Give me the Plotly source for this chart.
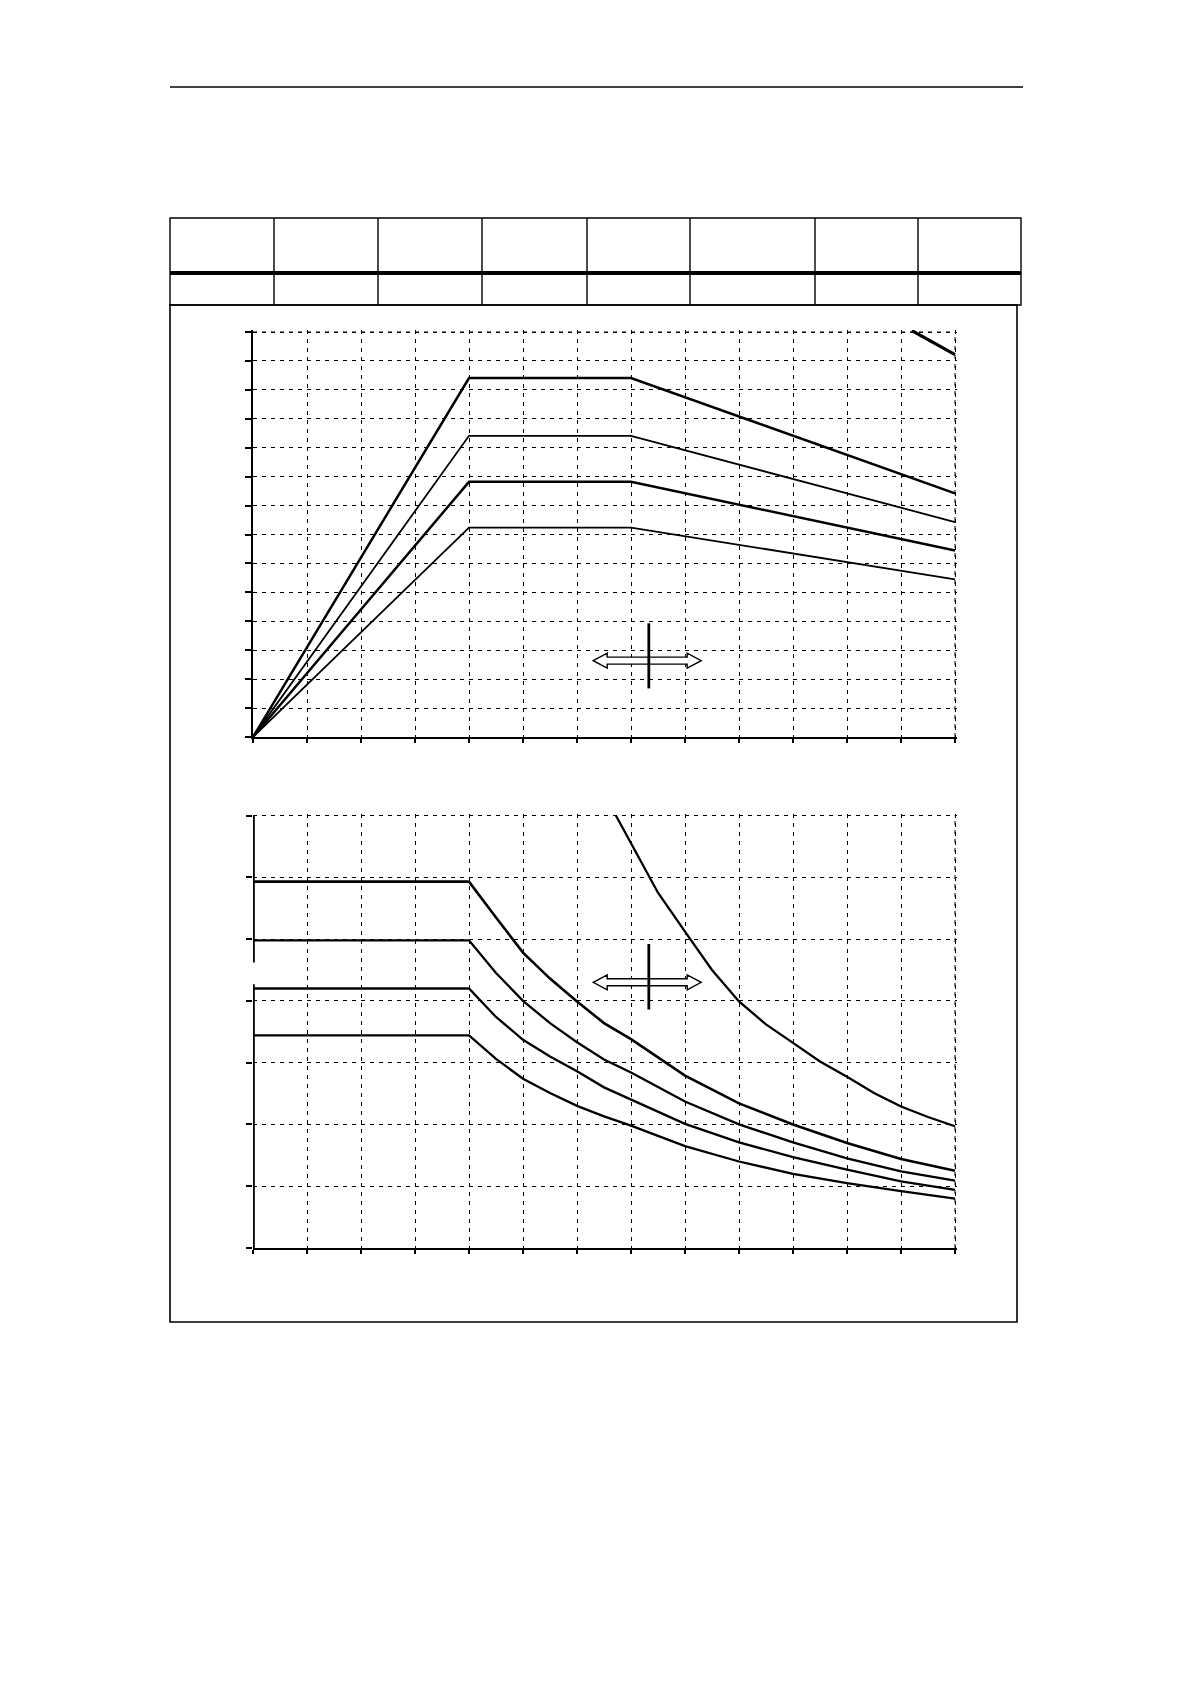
import plotly.graph_objects as go

# Seitengröße (Browserfenster) und Rand des <body>
PAGE_W, PAGE_H = 1190, 1684
BODY_MARGIN = 8
FIG_W, FIG_H = PAGE_W - 2 * BODY_MARGIN, PAGE_H - 2 * BODY_MARGIN

# Daten oberes Diagramm (Gitter 13 x 14)
x_oben = [0, 4, 7, 13]
oben_1 = [0, 12.41, 12.41, 8.42]
oben_2 = [0, 10.41, 10.41, 7.43]
oben_3 = [0, 8.82, 8.82, 6.45]
oben_4 = [0, 7.24, 7.24, 5.45]
x_strich = [12.2, 13]
y_strich = [14.05, 13.22]

# Daten unteres Diagramm (Gitter 13 x 7)
x_unten = [0, 4, 4.5, 5, 5.5, 6, 6.5, 7, 8, 9, 10, 11, 12, 13]
unten_a = [5.93, 5.93, 5.35, 4.78, 4.36, 3.99, 3.64, 3.38, 2.79, 2.34, 2.00, 1.70, 1.44, 1.25]
unten_b = [4.98, 4.98, 4.45, 4.00, 3.64, 3.33, 3.05, 2.84, 2.37, 2.00, 1.71, 1.45, 1.24, 1.09]
unten_c = [4.20, 4.20, 3.74, 3.37, 3.10, 2.86, 2.60, 2.40, 2.01, 1.71, 1.47, 1.27, 1.08, 0.94]
unten_d = [3.44, 3.44, 3.06, 2.74, 2.51, 2.30, 2.13, 1.98, 1.65, 1.40, 1.20, 1.05, 0.92, 0.80]
x_grenz = [6.72, 7, 7.5, 8, 8.5, 9, 9.5, 10, 10.5, 11, 11.5, 12, 12.5, 13]
unten_e = [7.0, 6.55, 5.75, 5.12, 4.50, 3.99, 3.62, 3.32, 3.02, 2.77, 2.51, 2.29, 2.12, 1.97]

# Achsbereiche (Gitter) und kleiner Überstand, damit die Randlinien nicht abgeschnitten werden
x_max = 13
y_max_oben = 14
y_max_unten = 7
UEBERSTAND_PX = 2

# Lücke in der y-Achse unten
y_achse_unten = [[4.62, 7], [0, 4.27]]

# Doppelpfeile mit Strich (Mitte, Strich-x, Strich y von/bis)
pfeil_oben = (7.3, 2.64, 7.33, 1.68, 3.93)
pfeil_unten = (7.3, 4.30, 7.33, 3.86, 4.92)

# Tabellenkopf (Seitenpixel)
tabelle_spalten = [170, 274, 378, 482, 587, 690, 815, 918, 1021]

STRICHEL = "4px,5px"

# Lage der Diagramme auf der Seite (Pixel)
X_LINKS, X_RECHTS = 253, 955
OBEN_Y0, OBEN_Y1 = 332, 737
UNTEN_Y0, UNTEN_Y1 = 815.5, 1248


def px(x):
    return (x - BODY_MARGIN) / FIG_W


def py(y):
    return 1 - (y - BODY_MARGIN) / FIG_H


# Bereich mit Überstand berechnen
x_pro_px = x_max / (X_RECHTS - X_LINKS)
y_oben_pro_px = y_max_oben / (OBEN_Y1 - OBEN_Y0)
y_unten_pro_px = y_max_unten / (UNTEN_Y1 - UNTEN_Y0)

fig = go.Figure()

for ys, w in [(oben_1, 2.5), (oben_2, 1.8), (oben_3, 2.5), (oben_4, 1.8)]:
    fig.add_trace(go.Scatter(x=x_oben, y=ys, mode="lines", line=dict(color="black", width=w),
                             xaxis="x", yaxis="y", hoverinfo="skip"))
fig.add_trace(go.Scatter(x=x_strich, y=y_strich, mode="lines", line=dict(color="black", width=3.2),
                         xaxis="x", yaxis="y", hoverinfo="skip"))

for ys, w in [(unten_a, 2.6), (unten_b, 2.3), (unten_c, 2.3), (unten_d, 2.3)]:
    fig.add_trace(go.Scatter(x=x_unten, y=ys, mode="lines", line=dict(color="black", width=w),
                             xaxis="x2", yaxis="y2", hoverinfo="skip"))
fig.add_trace(go.Scatter(x=x_grenz, y=unten_e, mode="lines", line=dict(color="black", width=2.3),
                         xaxis="x2", yaxis="y2", hoverinfo="skip"))

achse = dict(showgrid=True, gridcolor="black", gridwidth=1, griddash=STRICHEL,
             zeroline=False, showticklabels=False, dtick=1, tick0=0,
             ticks="outside", ticklen=4, tickcolor="black", tickwidth=1.5,
             linecolor="black", linewidth=1.8)

fig.update_layout(
    width=FIG_W, height=FIG_H,
    margin=dict(l=0, r=0, t=0, b=0),
    paper_bgcolor="white", plot_bgcolor="white",
    showlegend=False,
    xaxis=dict(achse, range=[0, x_max + UEBERSTAND_PX * x_pro_px],
               domain=[px(X_LINKS), px(X_RECHTS + UEBERSTAND_PX)], anchor="y", showline=True),
    yaxis=dict(achse, range=[0, y_max_oben + UEBERSTAND_PX * y_oben_pro_px],
               domain=[py(OBEN_Y1), py(OBEN_Y0 - UEBERSTAND_PX)], anchor="x", showline=True, ticklen=6),
    xaxis2=dict(achse, range=[0, x_max + UEBERSTAND_PX * x_pro_px],
                domain=[px(X_LINKS), px(X_RECHTS + UEBERSTAND_PX)], anchor="y2", showline=True),
    yaxis2=dict(achse, range=[0, y_max_unten + UEBERSTAND_PX * y_unten_pro_px],
                domain=[py(UNTEN_Y1), py(UNTEN_Y0 - UEBERSTAND_PX)], anchor="x2", showline=False, ticklen=6),
)

formen = []
# Kopflinie
formen.append(dict(type="line", xref="paper", yref="paper", x0=px(170), x1=px(1023), y0=py(87), y1=py(87),
                   line=dict(color="black", width=1.5)))
# Tabelle
formen.append(dict(type="rect", xref="paper", yref="paper", x0=px(170), x1=px(1021), y0=py(218), y1=py(305),
                   line=dict(color="black", width=1.4)))
for sx in tabelle_spalten[1:-1]:
    formen.append(dict(type="line", xref="paper", yref="paper", x0=px(sx), x1=px(sx), y0=py(218), y1=py(305),
                       line=dict(color="black", width=1.4)))
formen.append(dict(type="line", xref="paper", yref="paper", x0=px(170), x1=px(1021), y0=py(273), y1=py(273),
                   line=dict(color="black", width=4)))
# Rahmen um die Diagramme
formen.append(dict(type="rect", xref="paper", yref="paper", x0=px(170), x1=px(1017), y0=py(305), y1=py(1322),
                   line=dict(color="black", width=1.6)))

# gestrichelte Gitterlinien an den Rändern (oben und rechts)
for xr, yr, ym in [("x", "y", y_max_oben), ("x2", "y2", y_max_unten)]:
    formen.append(dict(type="line", xref=xr, yref=yr, x0=0, x1=x_max, y0=ym, y1=ym,
                       line=dict(color="black", width=1, dash=STRICHEL), layer="below"))
    formen.append(dict(type="line", xref=xr, yref=yr, x0=x_max, x1=x_max, y0=0, y1=ym,
                       line=dict(color="black", width=1, dash=STRICHEL), layer="below"))

# y-Achse unten mit Lücke (halbe Breite wird am Rand abgeschnitten)
for y0, y1 in y_achse_unten:
    formen.append(dict(type="line", xref="x2", yref="y2", x0=0, x1=0, y0=y0, y1=y1,
                       line=dict(color="black", width=3.6)))

# Doppelpfeile (Pixelpfad um den Ankerpunkt)
pfad = ("M -54,0 L -40,7.5 L -40,3.5 L 40,3.5 L 40,7.5 L 54,0 "
        "L 40,-7.5 L 40,-3.5 L -40,-3.5 L -40,-7.5 Z")
for (cx, cy, sx, sy0, sy1), xr, yr in [(pfeil_oben, "x", "y"), (pfeil_unten, "x2", "y2")]:
    formen.append(dict(type="path", xref=xr, yref=yr, xsizemode="pixel", ysizemode="pixel",
                       xanchor=cx, yanchor=cy, path=pfad, fillcolor="white",
                       line=dict(color="black", width=1.4), layer="above"))
    formen.append(dict(type="line", xref=xr, yref=yr, x0=sx, x1=sx, y0=sy0, y1=sy1,
                       line=dict(color="black", width=2.8), layer="above"))

fig.update_layout(shapes=formen)

fig.write_html("out.html")
